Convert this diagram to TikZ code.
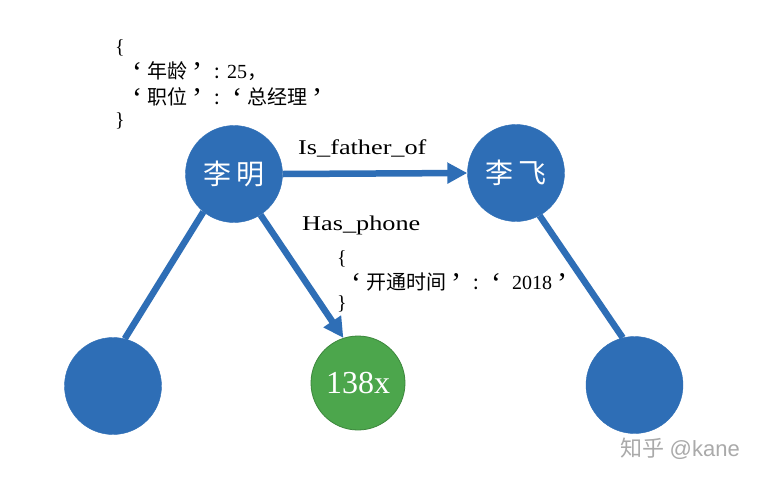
\documentclass[tikz,border=0pt]{standalone}
\usepackage{fontspec}
\setmainfont{Liberation Serif}
\newfontfamily\cjk{Noto Sans CJK SC}
\newfontfamily\widefont[FakeStretch=1.25]{Liberation Serif}
\newfontfamily\wmfont{Liberation Sans}
\usetikzlibrary{arrows.meta}
\definecolor{nodeblue}{RGB}{46,110,182}
\definecolor{nodegreen}{RGB}{76,166,76}
\definecolor{greenedge}{RGB}{60,135,60}
\definecolor{wmgray}{RGB}{170,170,170}
\newcommand\qopen{\makebox[20pt][c]{\smash{\raisebox{-4pt}{\fontsize{30}{30}\selectfont ‘}}}}
\newcommand\qclose{\makebox[20pt][c]{\smash{\raisebox{-4pt}{\fontsize{30}{30}\selectfont ’}}}}
\newcommand\qcolon{\makebox[20pt][c]{\cjk :}}
\tikzset{
  bnode/.style={circle,fill=nodeblue,draw=nodeblue,inner sep=0pt,minimum size=97pt,text=white,font=\cjk\fontsize{28}{32}\selectfont},
  gnode/.style={circle,fill=nodegreen,draw=greenedge,line width=0.8pt,inner sep=0pt,minimum size=94pt,text=white,font=\fontsize{32}{36}\selectfont},
  edge/.style={draw=nodeblue,line width=6.5pt},
  tip/.style={-{Triangle[length=20pt,width=20pt]}},
  lbl/.style={inner sep=0pt,font=\widefont\fontsize{21}{24}\selectfont},
  json/.style={inner sep=0pt,anchor=west,text height=15pt,text depth=3pt,font=\fontsize{20}{24}\selectfont},
  wm/.style={inner sep=0pt,text=wmgray,font=\fontsize{22}{26}\selectfont}
}
\begin{document}
\begin{tikzpicture}[x=1pt,y=-1pt]
\useasboundingbox[fill=white] (0,0) rectangle (761,480);
% nodes
\node[bnode] (lm) at (234,174) {李\,明};
\node[bnode] (lf) at (516,173) {李\,飞};
\node[bnode] (bl) at (113,386) {};
\node[gnode] (ph) at (358,383) {138x};
\node[bnode] (br) at (634.5,385) {};
% edges
\draw[edge,tip] (lm.east) -- (lf.west);
\draw[edge] (lm.-129) -- (bl.76);
\draw[edge,tip] (lm.-57) -- (ph.108);
\draw[edge] (lf.-61) -- (br.104);
% labels
\node[lbl,anchor=base west] (isf) at (298,154) {Is\_father\_of};
\node[lbl,anchor=base west] (hp) at (302,230) {Has\_phone};
% top-left json
\node[json] (j1) at (115,47) {\{};
\node[json] (j2) at (127,72) {\qopen{\cjk 年龄}\qclose\qcolon 25{\cjk ，}};
\node[json] (j3) at (127,98) {\qopen{\cjk 职位}\qclose\qcolon\qopen{\cjk 总经理}\qclose};
\node[json] (j4) at (115,120) {\}};
% phone json
\node[json] (p1) at (337,258) {\{};
\node[json] (p2) at (346,283) {\qopen{\cjk 开通时间}\qclose\qcolon\qopen\hspace{6pt}2018\qclose};
\node[json] (p3) at (337,303) {\}};
% watermark
\node[wm] (w) at (680,449) {{\cjk 知乎} {\wmfont @kane}};
\end{tikzpicture}
\end{document}
